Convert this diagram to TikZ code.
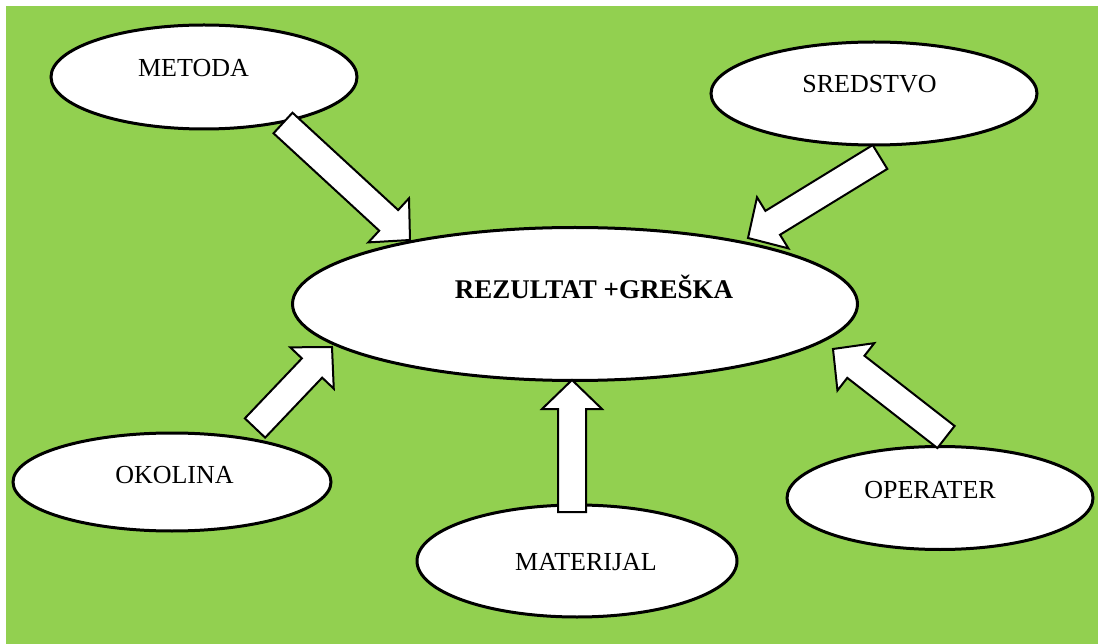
\documentclass[tikz,border=0pt]{standalone}
\usepackage{fontspec}
\setmainfont{Liberation Serif}
\usetikzlibrary{shapes.geometric,calc}
\definecolor{bggreen}{HTML}{92D050}
\tikzset{
  oval/.style={ellipse,draw=black,fill=white,line width=3pt,inner sep=0pt},
  lbl/.style={font=\fontsize{26}{30}\selectfont,anchor=base,inner sep=0pt},
  barrow/.style={draw=black,fill=white,line width=2pt,line join=miter}
}
% #1 tail coordinate, #2 tip coordinate
\newcommand\blockarrow[2]{%
  \coordinate (#1-n) at ($(#2)!29pt!(#1)$);
  \draw[barrow] ($(#1)!14pt!90:(#2)$) -- ($(#1-n)!14pt!90:(#2)$) -- ($(#1-n)!30pt!90:(#2)$)
    -- (#2) -- ($(#1-n)!30pt!-90:(#2)$) -- ($(#1-n)!14pt!-90:(#2)$) -- ($(#1)!14pt!-90:(#2)$) -- cycle;}
\begin{document}
\begin{tikzpicture}[x=1pt,y=-1pt]
\useasboundingbox (0,0) rectangle (1098,644);
\fill[bggreen] (6,6) rectangle (1098,644);

% ellipses
\node[oval,minimum width=306pt,minimum height=104pt] (metoda) at (204,77) {};
\node[oval,minimum width=326pt,minimum height=103pt] (sredstvo) at (874,93.5) {};
\node[oval,minimum width=565pt,minimum height=153pt] (rez) at (575,304) {};
\node[oval,minimum width=318pt,minimum height=98pt] (okolina) at (172,482) {};
\node[oval,minimum width=320pt,minimum height=112pt] (materijal) at (577,561) {};
\node[oval,minimum width=306pt,minimum height=103pt] (operater) at (940,498) {};

% texts
\node[lbl] (tmetoda) at (193.5,77) {METODA};
\node[lbl] (tsredstvo) at (869.5,93) {SREDSTVO};
\node[lbl,font=\fontsize{27}{31}\selectfont\bfseries] (trez) at (594,299) {REZULTAT +GREŠKA};
\node[lbl] (tokolina) at (174.5,483) {OKOLINA};
\node[lbl] (tmaterijal) at (586,570) {MATERIJAL};
\node[lbl] (toperater) at (930,498) {OPERATER};

% block arrows
\coordinate (a1t) at (283,123);  \coordinate (a1h) at (410,240);
\coordinate (a2t) at (880,157);  \coordinate (a2h) at (748,238);
\coordinate (a3t) at (255,428);  \coordinate (a3h) at (332,347);
\coordinate (a4t) at (572,512);  \coordinate (a4h) at (572,380);
\coordinate (a5t) at (946,437);  \coordinate (a5h) at (833,349);
\blockarrow{a1t}{a1h}
\blockarrow{a2t}{a2h}
\blockarrow{a3t}{a3h}
\blockarrow{a4t}{a4h}
\blockarrow{a5t}{a5h}
\end{tikzpicture}
\end{document}
